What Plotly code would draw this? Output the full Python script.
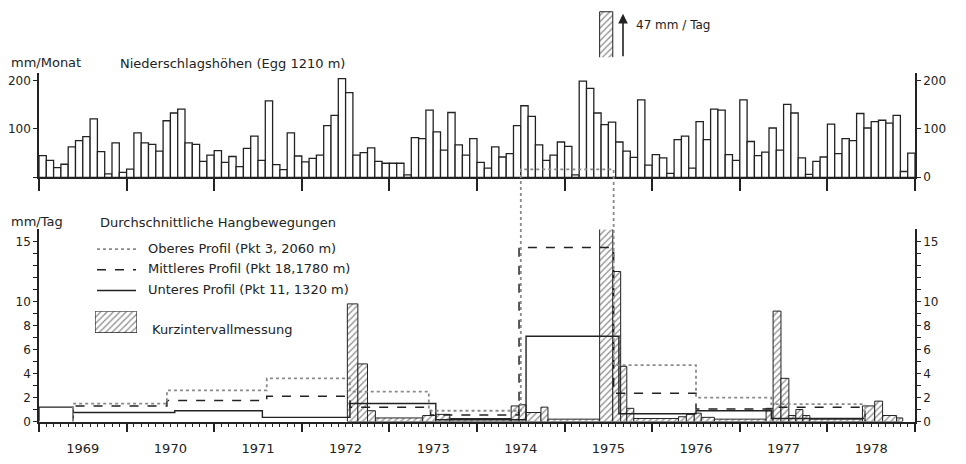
import plotly.graph_objects as go

W, H = 966, 464

# ---------------- data ----------------
years = [1969, 1970, 1971, 1972, 1973, 1974, 1975, 1976, 1977, 1978]
year_labels = ["1969", "1970", "1971", "1972", "1973", "1974", "1975", "1976", "1977", "1978"]

# monthly precipitation, Egg 1210 m (mm/Monat)
niederschlag_1969 = [45, 35, 20, 27, 63, 76, 84, 121, 53, 7, 71, 10]
niederschlag_1970 = [17, 92, 71, 68, 54, 117, 133, 141, 71, 68, 33, 46]
niederschlag_1971 = [55, 31, 43, 22, 60, 85, 35, 158, 26, 16, 92, 44]
niederschlag_1972 = [32, 39, 46, 107, 128, 204, 175, 46, 51, 61, 33, 29]
niederschlag_1973 = [29, 29, 5, 82, 80, 139, 94, 56, 134, 67, 46, 80]
niederschlag_1974 = [31, 19, 63, 42, 49, 107, 148, 126, 67, 35, 46, 73]
niederschlag_1975 = [64, 5, 199, 184, 133, 109, 114, 73, 54, 41, 160, 25]
niederschlag_1976 = [47, 40, 8, 78, 85, 19, 115, 78, 141, 139, 47, 35]
niederschlag_1977 = [160, 74, 45, 52, 102, 56, 151, 133, 40, 6, 33, 42]
niederschlag_1978 = [110, 49, 80, 76, 132, 102, 115, 118, 112, 128, 12, 50]

# average slope movement (mm/Tag), step periods: start year + value, common end
oberes_start = [1969.39, 1970.46, 1971.60, 1972.55, 1973.45, 1974.50, 1975.56, 1976.50, 1977.36]
oberes_value = [1.5, 2.6, 3.6, 2.5, 0.9, 21.0, 4.7, 2.0, 1.45]
oberes_end = 1978.43

mittleres_start = [1969.39, 1970.46, 1971.60, 1972.55, 1973.47, 1974.48, 1975.56, 1976.50, 1977.36]
mittleres_value = [1.3, 1.75, 2.1, 1.2, 0.55, 14.5, 2.35, 1.05, 1.2]
mittleres_end = 1978.43

unteres_start = [1969.0, 1969.39, 1970.55, 1971.55, 1972.55, 1973.53, 1974.56, 1975.62, 1976.50, 1977.36]
unteres_value = [1.2, 0.75, 0.9, 0.35, 1.5, 0.15, 7.1, 0.65, 0.9, 0.25]
unteres_end = 1978.43

# short-interval measurements (mm/Tag)
kurz_start = [1972.52, 1972.64, 1972.75, 1972.84, 1973.38, 1973.53, 1973.69, 1974.39, 1974.48,
              1974.56, 1974.73, 1974.81, 1975.40, 1975.55, 1975.64, 1975.71, 1975.79, 1976.30,
              1976.39, 1976.48, 1976.56, 1976.71, 1977.30, 1977.38, 1977.47, 1977.56, 1977.64,
              1977.72, 1977.80, 1978.40, 1978.54, 1978.63, 1978.79]
kurz_end = [1972.64, 1972.75, 1972.84, 1973.38, 1973.53, 1973.69, 1974.39, 1974.48, 1974.56,
            1974.73, 1974.81, 1975.40, 1975.55, 1975.64, 1975.71, 1975.79, 1976.30, 1976.39,
            1976.48, 1976.56, 1976.71, 1977.30, 1977.38, 1977.47, 1977.56, 1977.64, 1977.72,
            1977.80, 1978.40, 1978.54, 1978.63, 1978.79, 1978.86]
kurz_value = [9.8, 4.8, 0.9, 0.3, 0.5, 0.6, 0.25, 1.3, 1.4,
              0.75, 1.2, 0.2, 47.0, 12.5, 4.6, 1.1, 0.25, 0.4,
              0.6, 0.7, 0.35, 0.2, 1.1, 9.2, 3.6, 0.5, 1.0,
              0.5, 0.2, 1.3, 1.7, 0.5, 0.3]
kurz_peak_label = "47 mm / Tag"

# ---------------- helpers ----------------
INK = "#222222"
FONT = "DejaVu Sans"


def px_x(p):
    return p / W


def px_y(p):
    return 1 - p / H


def step_xy(starts, values, end):
    xs = [starts[0]] + list(starts) + [end, end]
    ys = [0] + list(values) + [values[-1], 0]
    return xs, ys


niederschlag = (niederschlag_1969 + niederschlag_1970 + niederschlag_1971 + niederschlag_1972
                + niederschlag_1973 + niederschlag_1974 + niederschlag_1975 + niederschlag_1976
                + niederschlag_1977 + niederschlag_1978)
month_x = [y + (m + 0.5) / 12 for y in years for m in range(12)]

xr = [1969, 1979]
xdom = [px_x(39), px_x(915)]
top_dom = [px_y(180), px_y(74)]
bot_dom = [px_y(428), px_y(233)]
bot_max = 16.0
px_per_unit = (bot_dom[1] - bot_dom[0]) * H / bot_max
ext_dom = [bot_dom[0], px_y(120)]
ext_max = bot_max * (ext_dom[1] - ext_dom[0]) / (bot_dom[1] - bot_dom[0])
glyph_dom = [px_y(58), px_y(10)]
peak = max(kurz_value)
glyph_range = [peak - 48 / px_per_unit, peak + 2 / px_per_unit]

hatch = dict(shape="/", fgcolor=INK, bgcolor="white", size=4.5, solidity=0.3)

fig = go.Figure()

# top: monthly precipitation
fig.add_trace(go.Bar(x=month_x, y=niederschlag, width=[1 / 12] * len(month_x),
                     marker=dict(color="white", line=dict(color=INK, width=1.3)),
                     xaxis="x", yaxis="y", showlegend=False, hoverinfo="x+y"))
fig.add_trace(go.Scatter(x=[], y=[], xaxis="x", yaxis="y4", showlegend=False))

# bottom: hatched short-interval bars
kx = [(s + e) / 2 for s, e in zip(kurz_start, kurz_end)]
kw = [e - s for s, e in zip(kurz_start, kurz_end)]
fig.add_trace(go.Bar(x=kx, y=kurz_value, width=kw,
                     marker=dict(color="white", line=dict(color=INK, width=1), pattern=hatch),
                     xaxis="x2", yaxis="y2", showlegend=False))

# profiles
ux, uy = step_xy(unteres_start, unteres_value, unteres_end)
fig.add_trace(go.Scatter(x=ux, y=uy, mode="lines", line=dict(color=INK, width=1.4, shape="hv"),
                         xaxis="x3", yaxis="y2", showlegend=False))
mx, my = step_xy(mittleres_start, mittleres_value, mittleres_end)
fig.add_trace(go.Scatter(x=mx, y=my, mode="lines", line=dict(color=INK, width=1.5, dash="dash", shape="hv"),
                         xaxis="x2", yaxis="y3", showlegend=False))
ox, oy = step_xy(oberes_start, oberes_value, oberes_end)
fig.add_trace(go.Scatter(x=ox, y=oy, mode="lines", line=dict(color="#8a8a8a", width=1.8, dash="dot", shape="hv"),
                         xaxis="x2", yaxis="y5", showlegend=False))

# top of the broken peak bar shown above the chart
pi = kurz_value.index(peak)
fig.add_trace(go.Bar(x=[kx[pi]], y=[peak], width=[kw[pi]],
                     marker=dict(color="white", line=dict(color=INK, width=1), pattern=hatch),
                     xaxis="x2", yaxis="y6", showlegend=False))

# legend swatch
fig.add_trace(go.Bar(x=[0.5], y=[1], width=[1],
                     marker=dict(color="white", line=dict(color=INK, width=1.2), pattern=hatch),
                     xaxis="x7", yaxis="y7", showlegend=False, hoverinfo="skip"))

axis_common = dict(showgrid=False, zeroline=False, showline=True, linecolor=INK, linewidth=1.5,
                   tickcolor=INK, tickfont=dict(family=FONT, size=12, color=INK))

bot_ticks = list(range(0, 16))
bot_text = [str(v) if v in (0, 2, 4, 6, 8, 10, 15) else "" for v in bot_ticks]

fig.update_layout(
    width=W, height=H, margin=dict(l=0, r=0, t=0, b=0),
    paper_bgcolor="white", plot_bgcolor="rgba(0,0,0,0)",
    barmode="overlay", showlegend=False,
    font=dict(family=FONT, size=12, color=INK),
    xaxis=dict(domain=xdom, range=xr, anchor="y", ticks="outside", tickmode="linear",
               tick0=1969, dtick=1, ticklen=12, tickwidth=1.5, showticklabels=False, **axis_common),
    yaxis=dict(domain=top_dom, range=[0, 216], anchor="x", ticks="outside", ticklen=4,
               tickmode="array", tickvals=[0, 100, 200], ticktext=["", "100", "200"], **axis_common),
    yaxis4=dict(overlaying="y", side="right", range=[0, 216], anchor="x", ticks="outside", ticklen=4,
                tickmode="array", tickvals=[0, 100, 200], ticktext=["0", "100", "200"], **axis_common),
    xaxis2=dict(domain=xdom, range=xr, anchor="y2", ticks="outside", tickmode="linear",
                tick0=1969, dtick=1, ticklen=9, tickwidth=1.5, showticklabels=False,
                minor=dict(ticks="outside", tickmode="linear", tick0=1969, dtick=1 / 12,
                           ticklen=4, tickcolor=INK, tickwidth=1), **axis_common),
    xaxis3=dict(overlaying="x2", range=xr, anchor="y2", side="bottom", showline=False,
                showgrid=False, zeroline=False, ticks="outside", ticklen=15, tickcolor="rgba(0,0,0,0)",
                tickmode="array", tickvals=[y + 0.5 for y in years], ticktext=year_labels,
                tickfont=dict(family=FONT, size=13, color=INK)),
    yaxis2=dict(domain=bot_dom, range=[0, bot_max], anchor="x2", ticks="outside", ticklen=4,
                tickmode="array", tickvals=bot_ticks, ticktext=bot_text, **axis_common),
    yaxis3=dict(overlaying="y2", side="right", range=[0, bot_max], anchor="x2", ticks="outside",
                ticklen=4, tickmode="array", tickvals=bot_ticks, ticktext=bot_text, **axis_common),
    yaxis5=dict(domain=ext_dom, range=[0, ext_max], anchor="x2", visible=False),
    yaxis6=dict(domain=glyph_dom, range=glyph_range, anchor="x2", visible=False),
    xaxis7=dict(domain=[px_x(95), px_x(137)], range=[0, 1], anchor="y7", visible=False),
    yaxis7=dict(domain=[px_y(338), px_y(316)], range=[0, 1], anchor="x7", visible=False),
)

ann = []


def txt(text, x, y, size=13, xanchor="left"):
    ann.append(dict(text=text, x=px_x(x), y=px_y(y), xref="paper", yref="paper",
                    xanchor=xanchor, yanchor="middle", showarrow=False,
                    font=dict(family=FONT, size=size, color=INK)))


txt("mm/Monat", 9, 63)
txt("Niederschlagshöhen (Egg 1210 m)", 118, 64)
txt("mm/Tag", 9, 225)
txt("Durchschnittliche Hangbewegungen", 98, 226)
txt("Oberes Profil (Pkt 3, 2060 m)", 146, 252)
txt("Mittleres Profil (Pkt 18,1780 m)", 146, 273)
txt("Unteres Profil (Pkt 11, 1320 m)", 146, 294)
txt("Kurzintervallmessung", 150, 335)
txt(kurz_peak_label, 634, 25, size=12)
ann.append(dict(text="", x=px_x(623), y=px_y(14), xref="paper", yref="paper",
                ax=0, ay=44, axref="pixel", ayref="pixel", showarrow=True,
                arrowhead=2, arrowsize=1.2, arrowwidth=1.6, arrowcolor=INK))
fig.update_layout(annotations=ann)

shapes = [
    dict(type="line", xref="paper", yref="paper", x0=px_x(97), x1=px_x(136), y0=px_y(253), y1=px_y(253),
         line=dict(color="#8a8a8a", width=1.8, dash="dot")),
    dict(type="line", xref="paper", yref="paper", x0=px_x(97), x1=px_x(136), y0=px_y(274), y1=px_y(274),
         line=dict(color=INK, width=1.5, dash="dash")),
    dict(type="line", xref="paper", yref="paper", x0=px_x(97), x1=px_x(136), y0=px_y(295), y1=px_y(295),
         line=dict(color=INK, width=1.4)),
]
fig.update_layout(shapes=shapes)

fig.write_html("out.html")
